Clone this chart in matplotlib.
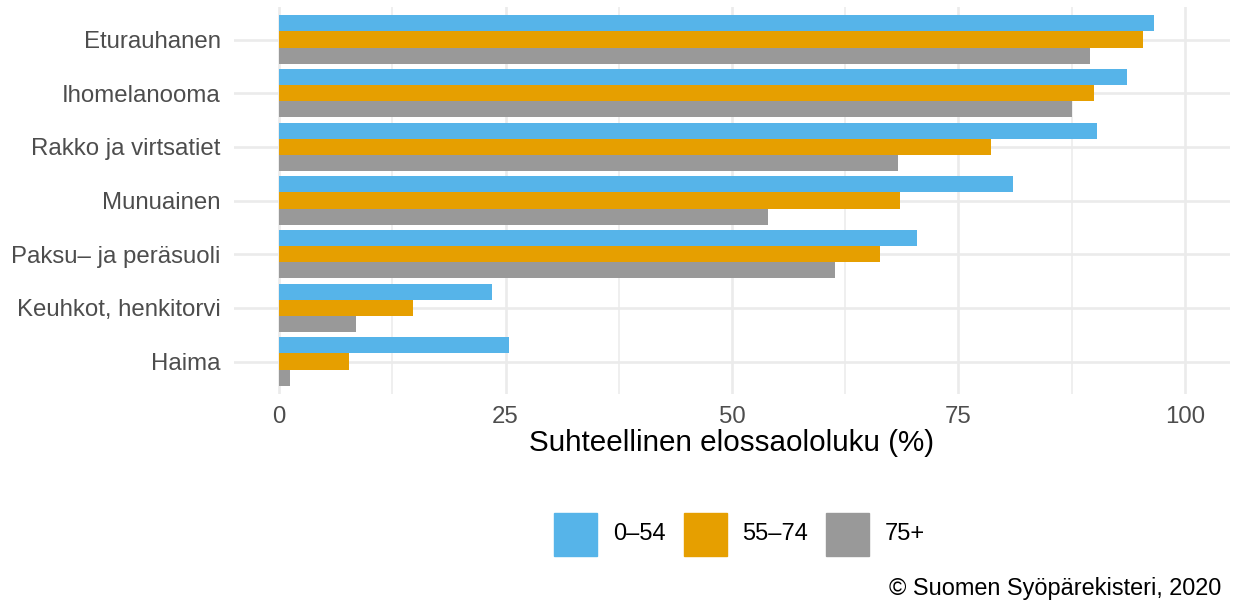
import matplotlib
matplotlib.use("Agg")
import matplotlib.pyplot as plt
from matplotlib.patches import Rectangle
import numpy as np

plt.rcParams['font.family'] = ['Liberation Sans', 'DejaVu Sans']

sites = ["Eturauhanen", "Ihomelanooma", "Rakko ja virtsatiet", "Munuainen",
         "Paksu– ja peräsuoli", "Keuhkot, henkitorvi", "Haima"]
age_groups = ["0–54", "55–74", "75+"]
surv_0_54 = [96.6, 93.6, 90.3, 81.0, 70.4, 23.5, 25.4]
surv_55_74 = [95.4, 90.0, 78.6, 68.5, 66.3, 14.8, 7.7]
surv_75 = [89.5, 87.5, 68.3, 54.0, 61.4, 8.5, 1.2]
colors = ["#56B4E9", "#E69F00", "#999999"]

W, H = 1233, 608
fig = plt.figure(figsize=(W / 100, H / 100), dpi=100)
# panel placed in pixel units
left, right, top, bottom = 233.7, 1230.3, 7.3, 393.7
ax = fig.add_axes([left / W, 1 - bottom / H, (right - left) / W, (bottom - top) / H])

y = np.arange(len(sites))
bw = 0.3
for i, (vals, col) in enumerate(zip([surv_0_54, surv_55_74, surv_75], colors)):
    ax.barh(y + (i - 1) * bw, vals, height=bw, color=col, zorder=3)

ax.set_xlim(-5, 105)
ax.set_ylim(len(sites) - 0.4, -0.6)
ax.set_xticks([0, 25, 50, 75, 100])
ax.set_xticks([12.5, 37.5, 62.5, 87.5], minor=True)
ax.set_yticks(y)
ax.set_yticklabels(sites)
ax.grid(True, which='major', color='#EBEBEB', linewidth=1.9, zorder=0)
ax.grid(True, which='minor', axis='x', color='#EBEBEB', linewidth=1.1, zorder=0)
ax.tick_params(which='both', length=0, labelsize=17.3, labelcolor='#4D4D4D')
ax.tick_params(axis='y', pad=9.5)
ax.tick_params(axis='x', pad=8.5)
for s in ax.spines.values():
    s.set_visible(False)

fig.text((left + right) / 2 / W, 1 - 451 / H, "Suhteellinen elossaololuku (%)",
         ha='center', va='baseline', fontsize=21.3, color='black')

# legend
key_x = [554, 684, 826]
txt_x = [613, 742, 885]
for kx, tx, lab, col in zip(key_x, txt_x, age_groups, colors):
    fig.add_artist(Rectangle((kx / W, 1 - 556 / H), 43 / W, 43 / H,
                             transform=fig.transFigure, color=col))
    fig.text(tx / W, 1 - 534.5 / H, lab, ha='left', va='center',
             fontsize=17, color='black')

fig.text(1221 / W, 1 - 595 / H, "© Suomen Syöpärekisteri, 2020",
         ha='right', va='baseline', fontsize=16.9, color='black')

fig.savefig("out.png", dpi=100)
plt.close(fig)
